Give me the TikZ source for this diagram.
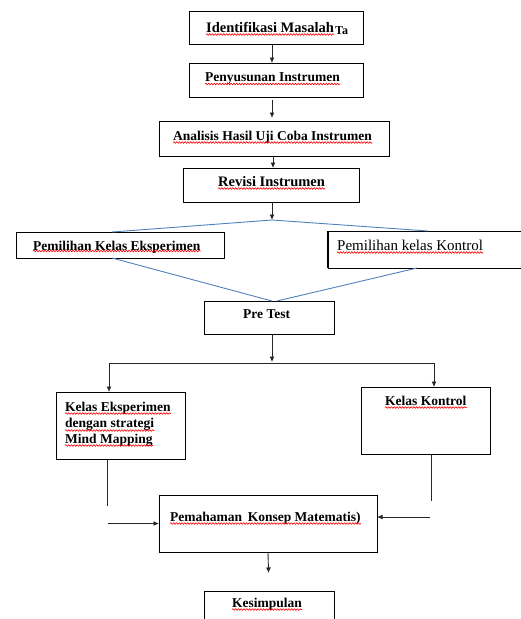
\documentclass[tikz,border=0pt]{standalone}
\usepackage{fontspec}
\setmainfont{Liberation Serif}
\usetikzlibrary{arrows.meta,decorations.pathmorphing}
\definecolor{lineblue}{RGB}{79,129,189}
\tikzset{
  box/.style={draw=black,line width=0.8pt,inner sep=0pt,outer sep=0pt},
  txt/.style={inner sep=0pt,anchor=base west,font=\bfseries\fontsize{13.5}{16}\selectfont},
  arr/.style={draw=black!85,line width=0.9pt,-{Latex[length=5.5pt,width=5pt]}},
  plain/.style={draw=black!85,line width=0.9pt},
  blueline/.style={draw=lineblue,line width=0.9pt},
  wavy/.style={draw=red,line width=0.6pt,decorate,decoration={snake,segment length=2.8pt,amplitude=0.8pt}}
}
\begin{document}
\begin{tikzpicture}[x=1pt,y=-1pt]
\useasboundingbox (0,0) rectangle (521,619);
\clip (0,0) rectangle (521,619);
% boxes
\node[box,minimum width=174pt,minimum height=33pt] (b1) at (276,27.5) {};
\node[box,minimum width=174pt,minimum height=34pt] (b2) at (276,80) {};
\node[box,minimum width=230pt,minimum height=35pt] (b3) at (274,138.5) {};
\node[box,minimum width=176pt,minimum height=34pt] (b4) at (271,185) {};
\node[box,minimum width=208pt,minimum height=26pt] (b5) at (120,245) {};
\node[box,minimum width=232pt,minimum height=37pt] (b6) at (444,249.5) {};
\draw[black,line width=1.6pt] (b6.north west) -- (b6.south west);
\node[box,minimum width=130pt,minimum height=33pt] (b7) at (269,317.5) {};
\node[box,minimum width=129pt,minimum height=67pt] (b8) at (120.5,425.5) {};
\node[box,minimum width=129pt,minimum height=67pt] (b9) at (425.5,420.5) {};
\node[box,minimum width=218pt,minimum height=57pt] (b10) at (268,523.5) {};
\node[box,minimum width=130pt,minimum height=49pt] (b11) at (269,615.5) {};
% texts
\node[txt,font=\bfseries\fontsize{14.5}{16}\selectfont] (t1) at (206,32) {Identifikasi Masalah};
\node[txt,font=\bfseries\fontsize{12}{14}\selectfont] (t1b) at (335,34) {Ta};
\node[txt] (t2) at (205,81.5) {Penyusunan Instrumen};
\node[txt] (t3) at (173,140) {Analisis Hasil Uji Coba Instrumen};
\node[txt,font=\bfseries\fontsize{14.5}{16}\selectfont] (t4) at (218,186) {Revisi Instrumen};
\node[txt] (t5) at (33,250) {Pemilihan Kelas Eksperimen};
\node[txt,font=\fontsize{15}{17}\selectfont] (t6) at (337,250) {Pemilihan kelas Kontrol};
\node[txt] (t7) at (243,318) {Pre Test};
\node[txt] (t8a) at (65,411) {Kelas Eksperimen};
\node[txt] (t8b) at (65,427) {dengan strategi};
\node[txt] (t8c) at (65,443) {Mind Mapping};
\node[txt] (t9) at (385,405) {Kelas Kontrol};
\node[txt] (t10) at (170,521) {Pemahaman\, Konsep Matematis)};
\node[txt] (t11) at (232,607) {Kesimpulan};
% wavy underlines
\foreach \t/\d in {t1/2.5,t2/2.5,t3/2.5,t4/2.5,t5/1.0,t6/2.5,t8a/2.5,t8b/3.5,t8c/2.5,t9/2.5,t10/2.5,t11/2.5}
  \draw[wavy] ([yshift=-\d pt]\t.base west) -- ([yshift=-\d pt]\t.base east);
% coordinates
\coordinate (ap) at (272,220);
\coordinate (j) at (272,362);
\coordinate (jl) at (109,363);
\coordinate (jr) at (434,363);
\coordinate (e1) at (107,506);
\coordinate (e2) at (108,523.5);
\coordinate (e3) at (431,501);
\coordinate (e4) at (430,517);
% connectors
\draw[arr] ([xshift=-4pt]b1.south) -- ([xshift=-4pt]b2.north);
\draw[arr,shorten <=3pt,shorten >=3pt] ([xshift=-4pt]b2.south) -- ([xshift=-2pt]b3.north);
\draw[arr] ([xshift=-1pt]b3.south) -- ([xshift=2pt]b4.north);
\draw[arr] ([xshift=1pt]b4.south) -- (ap);
\draw[blueline] (ap) -- ([xshift=-8pt]b5.north);
\draw[blueline] (ap) -- ([xshift=-16pt]b6.north);
\draw[blueline] ([xshift=-8pt]b5.south) -- ([xshift=3pt]b7.north);
\draw[blueline] ([xshift=-27pt]b6.south) -- ([xshift=8pt]b7.north);
\draw[arr] ([xshift=3pt]b7.south) -- (j);
\draw[plain] (jl) -- (jr);
\draw[arr] (jl) -- ([xshift=-11.5pt]b8.north);
\draw[arr] (jr) -- ([xshift=8.5pt]b9.north);
\draw[plain] ([xshift=-13.5pt]b8.south) -- (e1);
\draw[plain] ([xshift=5.5pt]b9.south) -- (e3);
\draw[arr] (e2) -- (b10.west);
\draw[arr] (e4) -- ([yshift=6.5pt]b10.east);
\draw[arr,shorten >=18pt] (b10.south) -- (b11.north);
\end{tikzpicture}
\end{document}
